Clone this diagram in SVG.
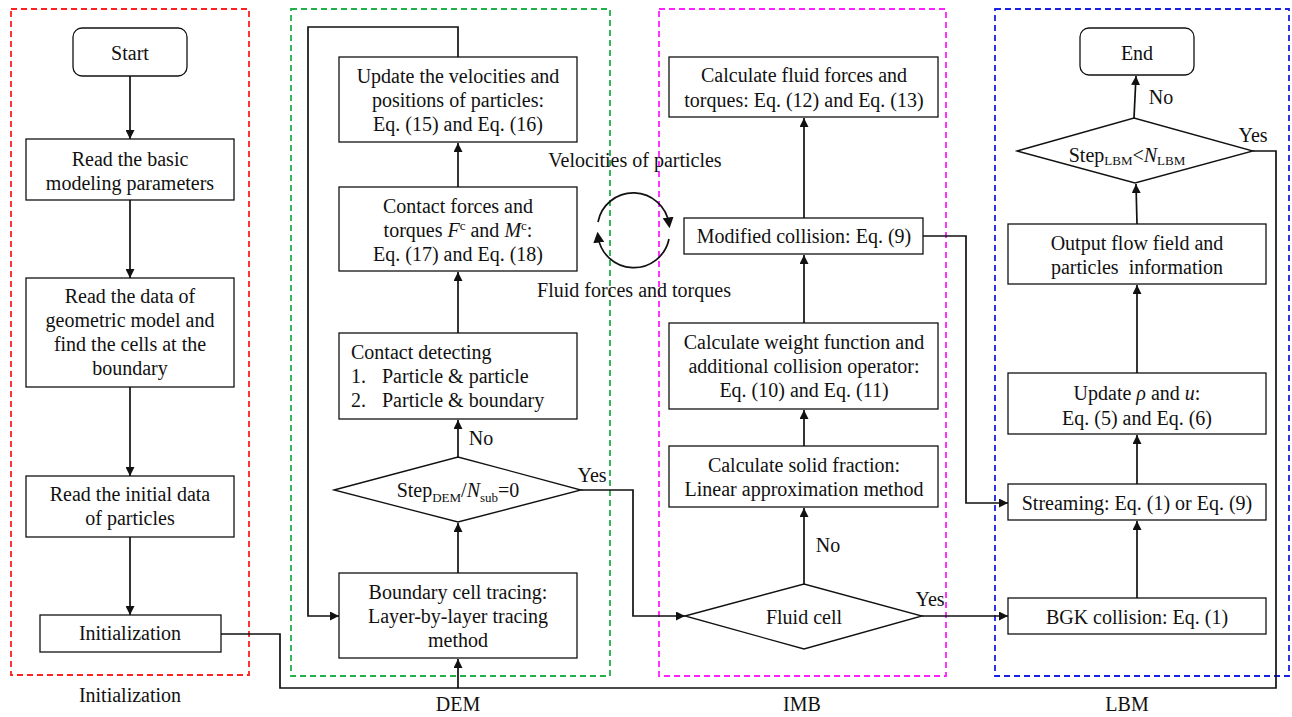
<svg xmlns="http://www.w3.org/2000/svg" width="1292" height="717" viewBox="0 0 1292 717">
<style>
.box{fill:#fff;stroke:#111;stroke-width:1.3}
.t{font-family:'Liberation Serif','DejaVu Serif',serif;font-size:20px;fill:#111;text-anchor:middle}
.tl{font-family:'Liberation Serif','DejaVu Serif',serif;font-size:20px;fill:#111}
.sub{font-size:13px}
.conn{fill:none;stroke:#111;stroke-width:1.7}
.dash{fill:none;stroke-width:1.8;stroke-dasharray:6 4}
</style>
<defs>
<marker id="ah" viewBox="0 0 10 10" refX="10" refY="5" markerWidth="9" markerHeight="9" markerUnits="userSpaceOnUse" orient="auto"><path d="M0,0 L10,5 L0,10 z" fill="#111"/></marker>
<marker id="ah2" viewBox="0 0 10 10" refX="6" refY="5" markerWidth="11" markerHeight="11" markerUnits="userSpaceOnUse" orient="auto"><path d="M0,0 L10,5 L0,10 z" fill="#111"/></marker>
</defs>

<g id="frames">
<rect class="dash" x="11" y="9" width="238" height="666" stroke="#ff2020"/>
<rect class="dash" x="291" y="9" width="319" height="667" stroke="#22b04a"/>
<rect class="dash" x="659" y="9" width="287" height="667" stroke="#ff20ff"/>
<rect class="dash" x="995" y="9" width="294" height="667" stroke="#1a20e0"/>
<text class="t" x="130" y="702">Initialization</text>
<text class="t" x="458" y="711">DEM</text>
<text class="t" x="802" y="711">IMB</text>
<text class="t" x="1127" y="711">LBM</text>
</g>

<g id="connectors">
<line class="conn" x1="130" y1="76" x2="130" y2="139" marker-end="url(#ah)"/>
<line class="conn" x1="130" y1="200" x2="130" y2="278" marker-end="url(#ah)"/>
<line class="conn" x1="130" y1="387" x2="130" y2="476" marker-end="url(#ah)"/>
<line class="conn" x1="130" y1="537" x2="130" y2="615" marker-end="url(#ah)"/>
<polyline class="conn" points="221,634 280,634 280,688 458,688"/>
<polyline class="conn" points="1253,151 1276,151 1276,688 458,688 458,659" marker-end="url(#ah)"/>
<line class="conn" x1="458" y1="573" x2="458" y2="523" marker-end="url(#ah)"/>
<line class="conn" x1="458" y1="457" x2="458" y2="420" marker-end="url(#ah)"/>
<line class="conn" x1="458" y1="333" x2="458" y2="272" marker-end="url(#ah)"/>
<line class="conn" x1="458" y1="187" x2="458" y2="143" marker-end="url(#ah)"/>
<polyline class="conn" points="458,57 458,27 308,27 308,616 339,616" marker-end="url(#ah)"/>
<polyline class="conn" points="581,490 633,490 633,616 685,616" marker-end="url(#ah)"/>
<line class="conn" x1="804" y1="584" x2="804" y2="508" marker-end="url(#ah)"/>
<line class="conn" x1="804" y1="446" x2="804" y2="410" marker-end="url(#ah)"/>
<line class="conn" x1="804" y1="323" x2="804" y2="255" marker-end="url(#ah)"/>
<line class="conn" x1="804" y1="218" x2="804" y2="118" marker-end="url(#ah)"/>
<polyline class="conn" points="923,236 966,236 966,503 1008,503" marker-end="url(#ah)"/>
<line class="conn" x1="922" y1="616" x2="1008" y2="616" marker-end="url(#ah)"/>
<line class="conn" x1="1137" y1="598" x2="1137" y2="521" marker-end="url(#ah)"/>
<line class="conn" x1="1137" y1="484" x2="1137" y2="435" marker-end="url(#ah)"/>
<line class="conn" x1="1137" y1="373" x2="1137" y2="285" marker-end="url(#ah)"/>
<line class="conn" x1="1137" y1="224" x2="1136" y2="184" marker-end="url(#ah)"/>
<line class="conn" x1="1134" y1="118" x2="1136" y2="76" marker-end="url(#ah)"/>
<path class="conn" d="M598,222 A36,36 0 0 1 669,224" stroke-width="2.2" marker-end="url(#ah2)"/>
<path class="conn" d="M669,239 A36,36 0 0 1 598,236" stroke-width="2.2" marker-end="url(#ah2)"/>
<text class="t" x="635" y="167">Velocities of particles</text>
<text class="t" x="634" y="297">Fluid forces and torques</text>
<text class="t" x="481" y="445">No</text>
<text class="t" x="592" y="482">Yes</text>
<text class="t" x="828" y="552">No</text>
<text class="t" x="930" y="606">Yes</text>
<text class="t" x="1161" y="104">No</text>
<text class="t" x="1253" y="142">Yes</text>
</g>

<g id="start"><rect class="box" x="73" y="28" width="114" height="48" rx="9"/><text class="t" x="130" y="60">Start</text></g>
<g id="read-basic"><rect class="box" x="26" y="139" width="208" height="61"/><text class="t" x="130" y="166">Read the basic</text><text class="t" x="130" y="190">modeling parameters</text></g>
<g id="read-geom"><rect class="box" x="26" y="278" width="208" height="109"/><text class="t" x="130" y="303">Read the data of</text><text class="t" x="130" y="327">geometric model and</text><text class="t" x="130" y="351">find the cells at the</text><text class="t" x="130" y="375">boundary</text></g>
<g id="read-particles"><rect class="box" x="26" y="476" width="208" height="61"/><text class="t" x="130" y="501">Read the initial data</text><text class="t" x="130" y="525">of particles</text></g>
<g id="init"><rect class="box" x="40" y="615" width="181" height="37"/><text class="t" x="130" y="640">Initialization</text></g>

<g id="update-particles"><rect class="box" x="339" y="57" width="238" height="85"/><text class="t" x="458" y="83">Update the velocities and</text><text class="t" x="458" y="107">positions of particles:</text><text class="t" x="458" y="131">Eq. (15) and Eq. (16)</text></g>
<g id="contact-forces"><rect class="box" x="339" y="187" width="238" height="84"/><text class="t" x="458" y="213">Contact forces and</text><text class="t" x="458" y="237">torques <tspan font-style="italic">F</tspan><tspan class="sub" dy="-7">c</tspan><tspan dy="7"> and </tspan><tspan font-style="italic">M</tspan><tspan class="sub" dy="-7">c</tspan><tspan dy="7">:</tspan></text><text class="t" x="458" y="261">Eq. (17) and Eq. (18)</text></g>
<g id="contact-detect"><rect class="box" x="339" y="333" width="238" height="86"/><text class="tl" x="351" y="359">Contact detecting</text><text class="tl" x="351" y="383">1.</text><text class="tl" x="382" y="383">Particle &amp; particle</text><text class="tl" x="351" y="407">2.</text><text class="tl" x="382" y="407">Particle &amp; boundary</text></g>
<g id="dem-decision"><polygon class="box" points="334,490 458,457 581,490 458,522"/><text class="t" x="458" y="497">Step<tspan class="sub" dy="5">DEM</tspan><tspan dy="-5">/</tspan><tspan font-style="italic">N</tspan><tspan class="sub" dy="5">sub</tspan><tspan dy="-5">=0</tspan></text></g>
<g id="boundary-tracing"><rect class="box" x="339" y="573" width="238" height="85"/><text class="t" x="458" y="599">Boundary cell tracing:</text><text class="t" x="458" y="623">Layer-by-layer tracing</text><text class="t" x="458" y="647">method</text></g>

<g id="fluid-forces"><rect class="box" x="669" y="57" width="269" height="60"/><text class="t" x="804" y="82">Calculate fluid forces and</text><text class="t" x="804" y="107">torques: Eq. (12) and Eq. (13)</text></g>
<g id="modified-collision"><rect class="box" x="684" y="218" width="239" height="36"/><text class="t" x="804" y="243">Modified collision: Eq. (9)</text></g>
<g id="weight-function"><rect class="box" x="669" y="323" width="269" height="86"/><text class="t" x="804" y="349">Calculate weight function and</text><text class="t" x="804" y="373">additional collision operator:</text><text class="t" x="804" y="397">Eq. (10) and Eq. (11)</text></g>
<g id="solid-fraction"><rect class="box" x="669" y="446" width="269" height="61"/><text class="t" x="804" y="472">Calculate solid fraction:</text><text class="t" x="804" y="496">Linear approximation method</text></g>
<g id="fluid-cell"><polygon class="box" points="685,616 804,584 922,616 804,649"/><text class="t" x="804" y="624">Fluid cell</text></g>

<g id="end"><rect class="box" x="1080" y="28" width="114" height="47" rx="9"/><text class="t" x="1137" y="60">End</text></g>
<g id="lbm-decision"><polygon class="box" points="1017,151 1134,118 1253,151 1135,183"/><text class="t" x="1127" y="162">Step<tspan class="sub" dy="3">LBM</tspan><tspan dy="-3">&lt;</tspan><tspan font-style="italic">N</tspan><tspan class="sub" dy="3">LBM</tspan></text></g>
<g id="output"><rect class="box" x="1008" y="224" width="258" height="60"/><text class="t" x="1137" y="250">Output flow field and</text><text class="t" x="1137" y="274">particles&#160; information</text></g>
<g id="update-rho-u"><rect class="box" x="1008" y="373" width="258" height="61"/><text class="t" x="1137" y="400">Update <tspan font-style="italic">ρ</tspan> and <tspan font-style="italic">u</tspan>:</text><text class="t" x="1137" y="425">Eq. (5) and Eq. (6)</text></g>
<g id="streaming"><rect class="box" x="1008" y="484" width="258" height="36"/><text class="t" x="1137" y="510">Streaming: Eq. (1) or Eq. (9)</text></g>
<g id="bgk"><rect class="box" x="1008" y="598" width="258" height="36"/><text class="t" x="1137" y="624">BGK collision: Eq. (1)</text></g>
</svg>
